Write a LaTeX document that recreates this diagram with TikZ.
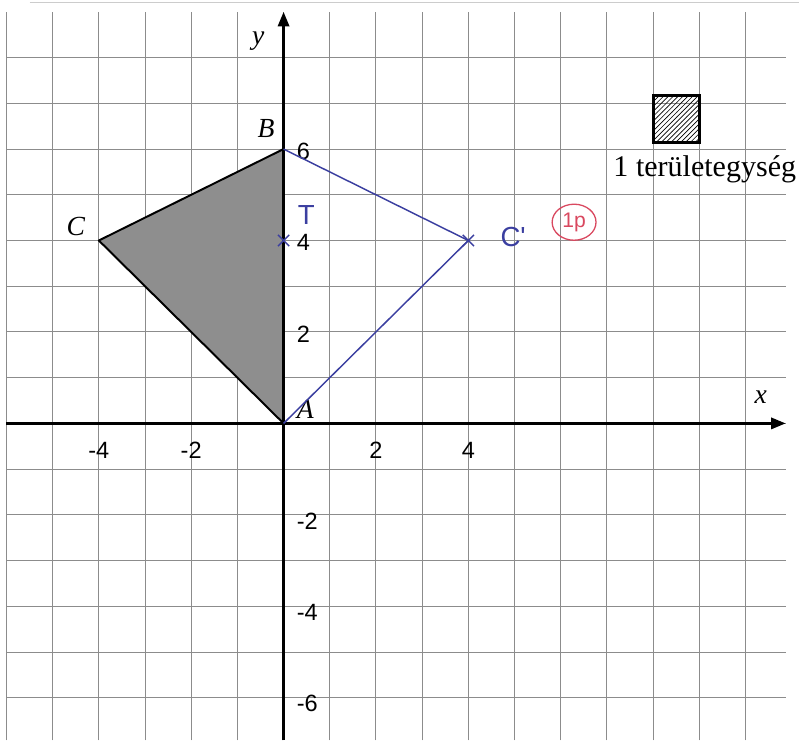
\documentclass[tikz,border=0pt]{standalone}
\usepackage{fontspec}
\setmainfont{Liberation Serif}
\newfontfamily\ticksf{Liberation Sans}
\usepackage{tikz}
\usetikzlibrary{arrows.meta,patterns,shapes.geometric,shapes.misc}
\definecolor{gridgray}{HTML}{8C8C8C}
\definecolor{areagray}{HTML}{8E8E8E}
\definecolor{pen}{HTML}{3B3FA0}
\definecolor{redpen}{HTML}{D9485F}

\begin{document}
\begin{tikzpicture}[x=1cm,y=0.99cm,
  gridline/.style={gridgray,line width=0.6pt},
  axis/.style={line width=1.5pt,-{Triangle[length=9pt,width=7pt]}},
  ticklab/.style={font=\ticksf\fontsize{14.5}{16}\selectfont,inner sep=0pt},
  ptlab/.style={font=\fontsize{17}{20}\selectfont\itshape,inner sep=0pt},
  penline/.style={pen,line width=0.9pt},
  hand/.style={pen,font=\ticksf\fontsize{17}{20}\selectfont,inner sep=0pt},
  xmark/.style={draw=pen,cross out,line width=0.9pt,minimum size=6pt,inner sep=0pt}]
\useasboundingbox (-6.14,-6.93) rectangle (11.16,9.26);
% grid
\foreach \i in {-6,...,10} \draw[gridline] (\i,-6.93)--(\i,9);
\foreach \j in {-6,...,8} \draw[gridline] (-6,\j)--(10.87,\j);
\draw[gray!40,line width=0.8pt] (-5.5,9.2)--(11.16,9.2);
% points
\coordinate (A) at (0,0);
\coordinate (B) at (0,6);
\coordinate (C) at (-4,4);
\coordinate (Cp) at (4,4);
\coordinate (T) at (0,4);
\filldraw[fill=areagray,draw=black,line width=1.2pt,line join=round] (A)--(B)--(C)--cycle;
% axes
\draw[axis] (-6,0)--(10.87,0);
\draw[axis] (0,-6.93)--(0,9);
\node[ptlab] (xlab) at (10.33,0.57) {x};
\node[ptlab] (ylab) at (-0.55,8.36) {y};
\foreach \v in {-4,-2,2,4} \node[ticklab] (xt\v) at (\v,-0.58) {\v};
\foreach \v in {6,4,2} \node[ticklab,anchor=west] (yt\v) at (0.28,{\v-0.05}) {\v};
\foreach \v in {-2,-4,-6} \node[ticklab,anchor=west] (yt\v) at (0.28,{\v-0.13}) {\v};
% labels
\node[ptlab] (Alab) at (0.47,0.3) {A};
\node[ptlab] (Blab) at (-0.38,6.46) {B};
\node[ptlab] (Clab) at (-4.5,4.3) {C};
% handwritten
\draw[penline] (B)--(Cp)--(A);
\node[xmark] (xcp) at (Cp) {};
\node[xmark] (xt) at (T) {};
\node[hand] (tlab) at (0.49,4.56) {T};
\node[hand] (cplab) at (4.97,4.08) {C'};
\node[ellipse,draw=redpen,line width=0.8pt,text=redpen,minimum width=0.95cm,minimum height=0.78cm,inner sep=0pt,font=\ticksf\fontsize{13}{14}\selectfont] (pt) at (6.29,4.4) {1p};
% legend
\draw[line width=1.8pt,pattern=north east lines] (8,6.15) rectangle (9,7.17);
\node[anchor=base,font=\fontsize{18.5}{22}\selectfont,inner sep=0pt] (unit) at (9.12,5.39) {1 területegység};
\end{tikzpicture}
\end{document}
